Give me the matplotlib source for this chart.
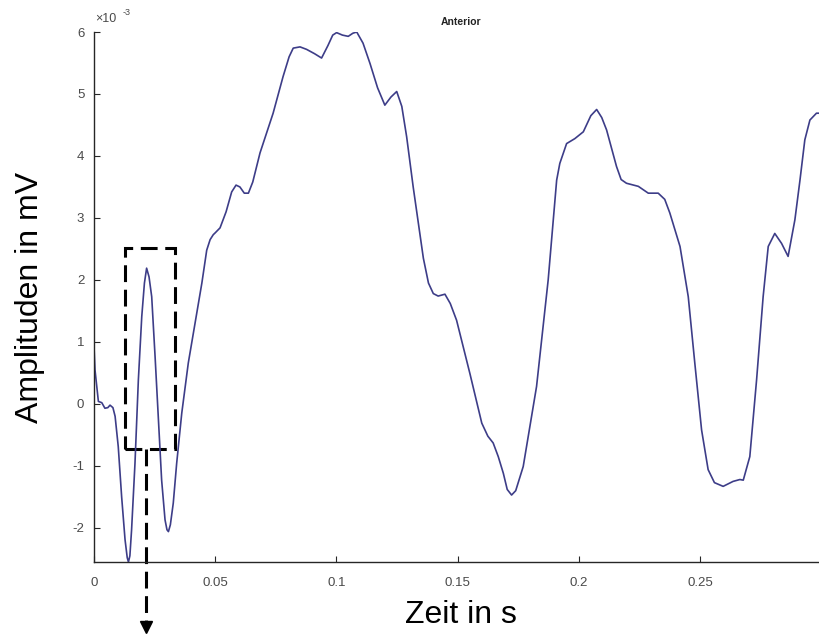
import numpy as np
import matplotlib
matplotlib.use('Agg')
import matplotlib.pyplot as plt
from matplotlib.patches import Rectangle

plt.rcParams['font.family'] = ['Liberation Sans', 'DejaVu Sans']
plt.rcParams['axes.unicode_minus'] = False

# Zeit in s
zeit = [0.0000, 0.0004, 0.0018, 0.0032, 0.0045, 0.0057, 0.0066, 0.0078, 0.0087, 0.0100,
        0.0114, 0.0128, 0.0137, 0.0142, 0.0148, 0.0155, 0.0169, 0.0183, 0.0197, 0.0208,
        0.0217, 0.0227, 0.0238, 0.0252, 0.0265, 0.0279, 0.0293, 0.0301, 0.0307, 0.0315,
        0.0327, 0.0341, 0.0362, 0.0389, 0.0424, 0.0445, 0.0465, 0.0479, 0.0492, 0.0500,
        0.0520, 0.0545, 0.0568, 0.0586, 0.0602, 0.0620, 0.0637, 0.0655, 0.0685, 0.0739,
        0.0780, 0.0805, 0.0822, 0.0850, 0.0877, 0.0910, 0.0939, 0.0965, 0.0985, 0.1001,
        0.1025, 0.1049, 0.1068, 0.1084, 0.1110, 0.1139, 0.1170, 0.1200, 0.1225, 0.1249,
        0.1270, 0.1290, 0.1317, 0.1359, 0.1380, 0.1400, 0.1420, 0.1448, 0.1470, 0.1496,
        0.1551, 0.1600, 0.1625, 0.1647, 0.1668, 0.1689, 0.1705, 0.1723, 0.1740, 0.1771,
        0.1826, 0.1874, 0.1909, 0.1922, 0.1950, 0.1984, 0.2019, 0.2050, 0.2074, 0.2095,
        0.2115, 0.2156, 0.2175, 0.2197, 0.2246, 0.2287, 0.2328, 0.2355, 0.2376, 0.2418,
        0.2452, 0.2479, 0.2507, 0.2534, 0.2560, 0.2596, 0.2637, 0.2665, 0.2679, 0.2706,
        0.2734, 0.2761, 0.2782, 0.2809, 0.2837, 0.2864, 0.2892, 0.2913, 0.2933, 0.2954,
        0.2981, 0.3000]

# Amplitude (x 1e-3)
amplitude = [0.92, 0.55, 0.04, 0.02, -0.07, -0.06, -0.02, -0.06, -0.20, -0.69,
             -1.50, -2.19, -2.48, -2.55, -2.45, -2.03, -0.96, 0.39, 1.41, 1.95,
             2.19, 2.05, 1.73, 0.76, -0.20, -1.23, -1.87, -2.03, -2.06, -1.95,
             -1.60, -0.96, -0.15, 0.66, 1.46, 1.95, 2.48, 2.65, 2.73, 2.76,
             2.84, 3.10, 3.42, 3.53, 3.50, 3.40, 3.40, 3.58, 4.05, 4.69,
             5.28, 5.60, 5.74, 5.76, 5.72, 5.65, 5.58, 5.78, 5.95, 5.99,
             5.95, 5.93, 5.98, 6.00, 5.82, 5.49, 5.10, 4.82, 4.95, 5.04,
             4.80, 4.31, 3.50, 2.35, 1.95, 1.78, 1.74, 1.77, 1.62, 1.35,
             0.49, -0.31, -0.52, -0.63, -0.85, -1.12, -1.38, -1.47, -1.40, -1.01,
             0.28, 2.00, 3.61, 3.88, 4.20, 4.28, 4.39, 4.65, 4.75, 4.62,
             4.42, 3.83, 3.62, 3.56, 3.51, 3.40, 3.40, 3.30, 3.08, 2.54,
             1.73, 0.66, -0.42, -1.06, -1.27, -1.33, -1.25, -1.22, -1.23, -0.85,
             0.39, 1.73, 2.54, 2.75, 2.59, 2.38, 2.97, 3.61, 4.26, 4.58,
             4.69, 4.69]

xticks = [0, 0.05, 0.1, 0.15, 0.2, 0.25]
xticklabels = ['0', '0.05', '0.1', '0.15', '0.2', '0.25']
yticks = [-2, -1, 0, 1, 2, 3, 4, 5, 6]
yticklabels = ['-2', '-1', '0', '1', '2', '3', '4', '5', '6']

# markierter Bereich (Kasten) und Pfeil
box_t = [0.0128, 0.0334]
box_v = [-0.73, 2.51]
pfeil_t = 0.0215
pfeil_v = [-0.73, -3.50]

t = np.array(zeit)
a = np.array(amplitude) * 1e-3

fig = plt.figure(figsize=(8.19, 6.35), dpi=100)
# Achse ragt rechts ueber das Bild hinaus (Original ist beschnitten)
ax = fig.add_axes([0.1148, 0.115, 0.896, 0.8346])

ax.plot(t, a, color='#3d3d88', lw=1.2, solid_joinstyle='round')

ax.set_xlim(0, 0.3028)
ax.set_ylim(-2.55e-3, 6e-3)
ax.set_xticks(xticks)
ax.set_xticklabels(xticklabels)
ax.set_yticks(np.array(yticks) * 1e-3)
ax.set_yticklabels(yticklabels)

for s in ['top', 'right']:
    ax.spines[s].set_visible(False)
for s in ['left', 'bottom']:
    ax.spines[s].set_linewidth(1.0)
    ax.spines[s].set_color('#262626')

ax.tick_params(direction='in', length=4, width=0.8, labelsize=9.5, colors='#262626',
               labelcolor='#4a4a4a')
ax.tick_params(axis='x', pad=11)
ax.tick_params(axis='y', pad=7)

ax.set_xlabel('Zeit in s', fontsize=23, labelpad=8)
ax.set_ylabel('Amplituden in mV', fontsize=23, labelpad=20)
ax.set_title('Anterior', fontsize=7.5, fontweight='bold', pad=5, color='#222222')

# Skalenfaktor oben links
fig.text(95 / 819, 1 - 22 / 635, u'\u00d710', fontsize=9, color='#4a4a4a', ha='left', va='baseline')
fig.text(123 / 819, 1 - 15 / 635, '-3', fontsize=6.5, color='#4a4a4a', ha='left', va='baseline')

# gestrichelter Kasten
rect = Rectangle((box_t[0], box_v[0] * 1e-3), box_t[1] - box_t[0], (box_v[1] - box_v[0]) * 1e-3,
                 fill=False, edgecolor='black', lw=2.2, linestyle=(0, (5.5, 2.5)))
ax.add_patch(rect)

# Pfeil nach unten
ax.plot([pfeil_t, pfeil_t], [pfeil_v[0] * 1e-3, pfeil_v[1] * 1e-3], color='black', lw=2.2,
        linestyle=(0, (5.5, 2.5)), clip_on=False)
ax.plot([pfeil_t], [pfeil_v[1] * 1e-3 - 0.1e-3], marker='v', color='black', markersize=9,
        clip_on=False)

fig.savefig('out.png', dpi=100)
